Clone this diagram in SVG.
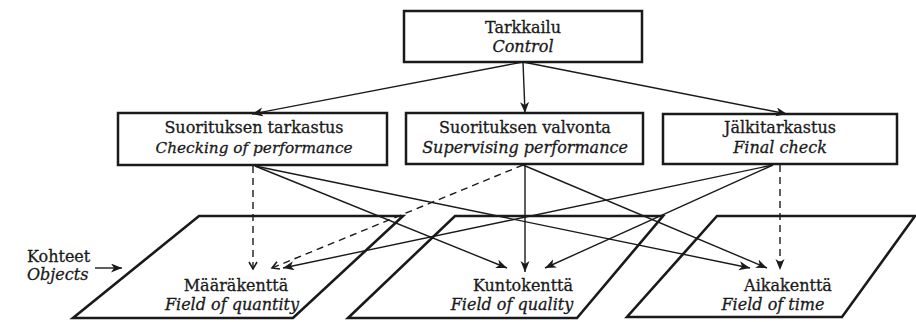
<svg xmlns="http://www.w3.org/2000/svg" width="916" height="322" viewBox="0 0 916 322">
  <style>
    .box { fill: #fff; stroke: #1a1a1a; stroke-width: 2.5; }
    .field { fill: none; stroke: #1a1a1a; stroke-width: 2.6; stroke-linejoin: miter; }
    .t { font-family: "DejaVu Serif", "Liberation Serif", serif; font-size: 16px; fill: #1a1a1a; stroke: #1a1a1a; stroke-width: 0.3; text-anchor: middle; }
    .i { font-style: italic; }
    .link { fill: none; stroke: #1a1a1a; stroke-width: 1.4; }
    .solid { marker-end: url(#head); }
    .dash { stroke-dasharray: 7 5; }
  </style>
  <defs>
    <marker id="head" markerUnits="userSpaceOnUse" markerWidth="12" markerHeight="10" refX="11" refY="4.5" orient="auto">
      <path d="M0,0 L11,4.5 L0,9 L3,4.5 z" fill="#1a1a1a"/>
    </marker>
    <marker id="vee" markerUnits="userSpaceOnUse" markerWidth="12" markerHeight="12" refX="8" refY="5" orient="auto">
      <path d="M1,1 L8,5 L1,9" fill="none" stroke="#1a1a1a" stroke-width="1.6"/>
    </marker>
  </defs>

  <!-- hierarchy boxes -->
  <g id="control">
    <rect class="box" x="404" y="11" width="238" height="51"/>
    <text class="t" x="523" y="33">Tarkkailu</text>
    <text class="t i" x="523" y="52">Control</text>
  </g>
  <g id="checking">
    <rect class="box" x="118" y="113" width="269" height="52"/>
    <text class="t" x="254" y="133">Suorituksen tarkastus</text>
    <text class="t i" x="254" y="153" style="font-size:15.3px">Checking of performance</text>
  </g>
  <g id="supervising">
    <rect class="box" x="406" y="113" width="237" height="51"/>
    <text class="t" x="525" y="133">Suorituksen valvonta</text>
    <text class="t i" x="525" y="153">Supervising performance</text>
  </g>
  <g id="final">
    <rect class="box" x="663" y="114" width="234" height="50"/>
    <text class="t" x="780" y="133">Jälkitarkastus</text>
    <text class="t i" x="780" y="153">Final check</text>
  </g>

  <!-- object fields -->
  <g id="quantity">
    <polygon class="field" points="199,216 403,216 293,318 73,318"/>
    <text class="t" x="236" y="291">Määräkenttä</text>
    <text class="t i" x="232" y="310">Field of quantity</text>
  </g>
  <g id="quality">
    <polygon class="field" points="455,216 663,216 577,318 348,318"/>
    <text class="t" x="523" y="291">Kuntokenttä</text>
    <text class="t i" x="512" y="310">Field of quality</text>
  </g>
  <g id="time">
    <polygon class="field" points="717,216 915,216 842,317 627,317"/>
    <text class="t" x="788" y="291">Aikakenttä</text>
    <text class="t i" x="773" y="310">Field of time</text>
  </g>

  <g id="objects-label">
    <text class="t" x="27" y="262" style="text-anchor:start">Kohteet</text>
    <text class="t i" x="27" y="280" style="text-anchor:start">Objects</text>
  </g>

  <!-- connectors -->
  <g id="connectors">
    <line class="link solid" x1="523" y1="62" x2="252" y2="114"/>
    <line class="link solid" x1="523" y1="62" x2="525" y2="113"/>
    <line class="link solid" x1="523" y1="62" x2="787" y2="114"/>

    <line class="link dash" x1="253" y1="166" x2="253" y2="269" marker-end="url(#vee)"/>
    <line class="link solid" x1="255" y1="166" x2="507" y2="268"/>
    <line class="link solid" x1="255" y1="166" x2="750" y2="268"/>

    <line class="link dash" x1="523" y1="165" x2="272" y2="268" marker-end="url(#vee)"/>
    <line class="link solid" x1="525" y1="165" x2="525" y2="272"/>
    <line class="link solid" x1="523" y1="165" x2="767" y2="268"/>

    <line class="link solid" x1="773" y1="165" x2="283" y2="268"/>
    <line class="link solid" x1="773" y1="165" x2="545" y2="268"/>
    <line class="link dash solid" x1="780" y1="165" x2="780" y2="270"/>

    <line class="link solid" stroke-width="2" x1="95" y1="268" x2="122" y2="268"/>
  </g>
</svg>
